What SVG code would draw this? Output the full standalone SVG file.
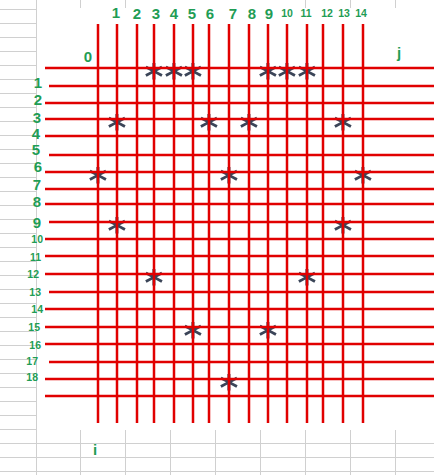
<svg xmlns="http://www.w3.org/2000/svg" width="434" height="475" viewBox="0 0 434 475">
<style>
.g{stroke:#d0d0d0;stroke-width:1;fill:none}
.r{stroke:#e10000;stroke-width:2.5;fill:none}
.L{font-family:"Liberation Sans",Arial,sans-serif;font-weight:bold;fill:#1f9d55;font-size:15px}
.s{font-size:10.5px}
.cl{text-anchor:middle}
.rl{text-anchor:end}
.a{font-family:"DejaVu Sans",sans-serif;font-weight:bold;font-size:36px;fill:#3a4458;text-anchor:middle}
</style>
<defs>
<filter id="b" x="-20%" y="-20%" width="140%" height="140%"><feGaussianBlur stdDeviation="0.6"/></filter>
</defs>
<rect width="434" height="475" fill="#fff"/>
<g id="sheet" class="g">
<path d="M36.5,0V475"/>
<path d="M0,9.5H36M0,23.5H36M0,37.5H36M0,51.5H36M0,65.5H36M0,79.5H36M0,93.5H36M0,107.5H36M0,121.5H36M0,135.5H36M0,149.5H36M0,163.5H36M0,177.5H36M0,191.5H36M0,205.5H36M0,219.5H36M0,233.5H36M0,247.5H36M0,261.5H36M0,275.5H36M0,289.5H36M0,303.5H36M0,317.5H36M0,331.5H36M0,345.5H36M0,359.5H36M0,373.5H36M0,387.5H36M0,401.5H36M0,415.5H36M0,429.5H36"/>
<path d="M0,443.5H434M0,457.5H434M0,471.5H434"/>
<path d="M80.5,0V8M125.5,0V8M305.5,0V8M350.5,0V8M395.5,0V8"/>
<path d="M80.5,430V475M125.5,430V475M170.5,430V475M215.5,430V475M260.5,430V475M305.5,430V475M350.5,430V475M395.5,430V475"/>
</g>
<g id="stars" filter="url(#b)">
<text class="a" x="154" y="89">*</text>
<text class="a" x="174" y="89">*</text>
<text class="a" x="193" y="89">*</text>
<text class="a" x="268" y="89">*</text>
<text class="a" x="287" y="89">*</text>
<text class="a" x="307" y="89">*</text>
<text class="a" x="117" y="140">*</text>
<text class="a" x="209" y="140">*</text>
<text class="a" x="249" y="140">*</text>
<text class="a" x="343" y="140">*</text>
<text class="a" x="98" y="193">*</text>
<text class="a" x="229" y="193">*</text>
<text class="a" x="363" y="193">*</text>
<text class="a" x="117" y="243">*</text>
<text class="a" x="343" y="243">*</text>
<text class="a" x="154" y="295">*</text>
<text class="a" x="307" y="295">*</text>
<text class="a" x="193" y="348">*</text>
<text class="a" x="268" y="348">*</text>
<text class="a" x="229" y="400">*</text>
</g>
<g id="connectors" class="r">
<path d="M98,24V423M117,24V423M137,24V423M154,24V423M174,24V423M193,24V423M209,24V423M229,24V423M249,24V423M268,24V423M287,24V423M307,24V423M323,24V423M343,24V423M363,24V423"/>
<path d="M45,68H434M49,86H434M45,103H434M45,119H434M45,136H434M49,155H434M45,172H434M45,189H434M45,204H434M49,222H434M45,239H434M45,256H434M45,274H434M49,292H434M45,309H434M45,327H434M45,344H434M49,362H434M45,379H434M45,396H434"/>
</g>
<g id="col-labels" class="L cl">
<text x="116" y="18">1</text>
<text x="137" y="19">2</text>
<text x="156" y="19">3</text>
<text x="174" y="19">4</text>
<text x="192" y="19">5</text>
<text x="210" y="19">6</text>
<text x="233" y="19">7</text>
<text x="252" y="19">8</text>
<text x="269" y="19">9</text>
<text class="s" x="287" y="17">10</text>
<text class="s" x="306" y="17">11</text>
<text class="s" x="327" y="17">12</text>
<text class="s" x="344" y="17">13</text>
<text class="s" x="361" y="17">14</text>
</g>
<g id="row-labels" class="L rl">
<text x="42" y="88">1</text>
<text x="42" y="105">2</text>
<text x="41" y="123">3</text>
<text x="40" y="139">4</text>
<text x="40" y="155">5</text>
<text x="42" y="172">6</text>
<text x="41" y="190">7</text>
<text x="41" y="207">8</text>
<text x="41" y="228">9</text>
<text class="s" x="43" y="243">10</text>
<text class="s" x="41" y="261">11</text>
<text class="s" x="39" y="278">12</text>
<text class="s" x="41" y="296">13</text>
<text class="s" x="43" y="313">14</text>
<text class="s" x="40" y="331">15</text>
<text class="s" x="41" y="349">16</text>
<text class="s" x="38" y="365">17</text>
<text class="s" x="38" y="381">18</text>
</g>
<g id="axis-labels" class="L cl">
<text x="88" y="62">0</text>
<text x="399" y="58">j</text>
<text x="95" y="455">i</text>
</g>
</svg>
